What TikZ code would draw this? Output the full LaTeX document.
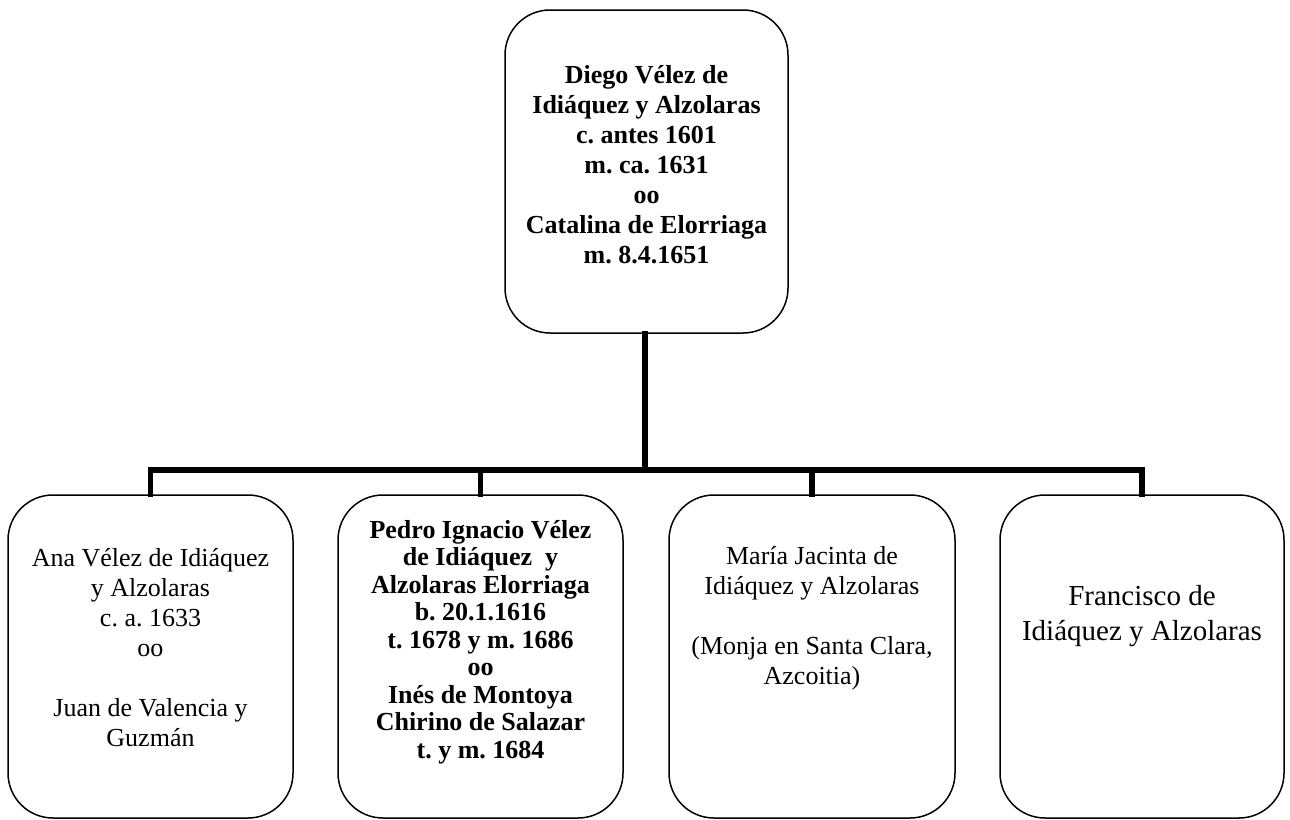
\documentclass[tikz,border=0pt]{standalone}
\usepackage{fontspec}
\setmainfont{Liberation Serif}
\frenchspacing
\tikzset{
  famborder/.style={draw=black, line width=1.5pt, rounded corners=45pt,
    rectangle, inner sep=0pt, minimum width=285pt, minimum height=323pt},
  conn/.style={draw=black, line width=5.5pt, line join=miter, line cap=rect},
  txt/.style={anchor=base, inner sep=0pt, align=center},
  reg/.style={font=\fontsize{26}{30}\selectfont},
  bld/.style={font=\fontsize{26}{30}\selectfont\bfseries},
}
\newcommand{\lines}[1]{\begin{tabular}[t]{@{}c@{}}#1\end{tabular}}
\begin{document}
\begin{tikzpicture}[x=1pt, y=-1pt]
\useasboundingbox (0,0) rectangle (1290,819);

% family boxes
\node[famborder, minimum width=283pt] (top) at (646.5,171.5) {};
\node[famborder] (ana)  at (150.5,656.5) {};
\node[famborder] (pedro) at (480.5,656.5) {};
\node[famborder, minimum width=286pt] (maria) at (812,656.5) {};
\node[famborder, minimum width=284pt] (fran) at (1142,656.5) {};

% connectors
\coordinate (bus) at (645,470);
\draw[conn] (top.south -| bus) -- (bus);
\draw[conn] (ana.north) -- (ana.north |- bus) -- (fran.north |- bus) -- (fran.north);
\draw[conn] (pedro.north) -- (pedro.north |- bus);
\draw[conn] (maria.north) -- (maria.north |- bus);

% texts
\node[txt, bld] (ttop) at (646.5,83) {\lines{Diego Vélez de\\ Idiáquez y Alzolaras\\ c. antes 1601\\ m. ca. 1631\\ oo\\ Catalina de Elorriaga\\ m. 8.4.1651}};
\node[txt, reg] (tana) at (150.5,566) {\lines{Ana Vélez de Idiáquez\\ y Alzolaras\\ c. a. 1633\\ oo\\ \\ Juan de Valencia y\\ Guzmán}};
\node[txt, font=\fontsize{26}{27.5}\selectfont\bfseries] (tpedro) at (480.5,538) {\lines{Pedro Ignacio Vélez\\ de Idiáquez\ \ y\\ Alzolaras Elorriaga\\ b. 20.1.1616\\ t. 1678 y m. 1686\\ oo\\ Inés de Montoya\\ Chirino de Salazar\\ t. y m. 1684}};
\node[txt, reg] (tmaria) at (812,564) {\lines{María Jacinta de\\ Idiáquez y Alzolaras\\ \\ (Monja en Santa Clara,\\ Azcoitia)}};
\node[txt, font=\fontsize{29}{35}\selectfont] (tfran) at (1142,605) {\lines{Francisco de\\ Idiáquez y Alzolaras}};
\end{tikzpicture}
\end{document}
